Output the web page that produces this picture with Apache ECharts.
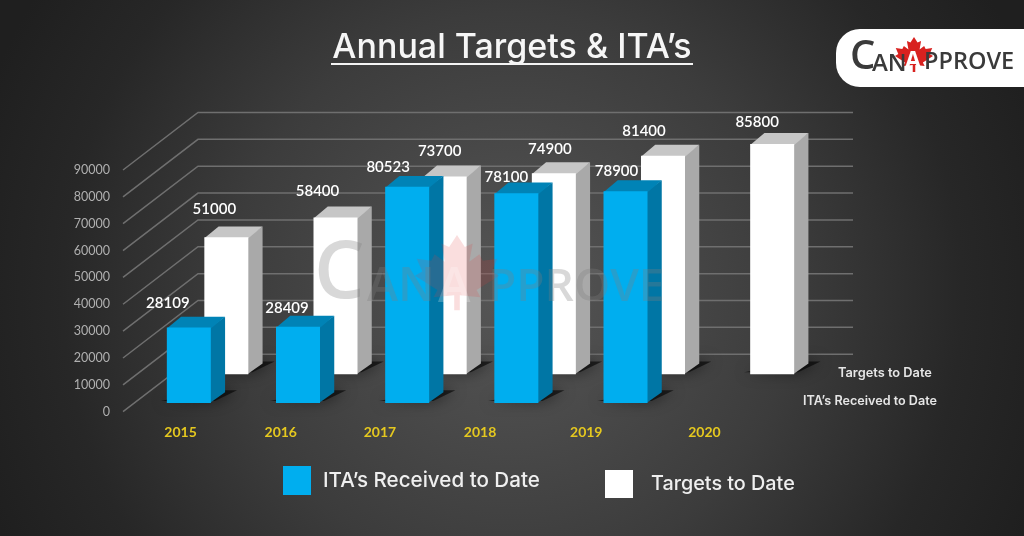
<!DOCTYPE html>
<html>
<head>
<meta charset="utf-8">
<style>html,body{margin:0;padding:0;background:#222}#chart{width:1024px;height:536px}</style>
<script src="https://cdn.jsdelivr.net/npm/echarts@6/dist/echarts.min.js"></script>
</head>
<body>
<div id="chart"></div>
<script>
var years = ['2015', '2016', '2017', '2018', '2019', '2020'];
var yTicks = [0, 10000, 20000, 30000, 40000, 50000, 60000, 70000, 80000, 90000];
var itaName = 'ITA\u2019s Received to Date';
var targetName = 'Targets to Date';
var itaValues = [28109, 28409, 80523, 78100, 78900, null];
var targetValues = [51000, 58400, 73700, 74900, 81400, 85800];

// hand placed offsets of the labels in the original picture, [dx from bar centre, dy above bar top]
var itaLabelNudge = [[-21, 24], [-11, 19], [-19, 20], [-10, 16], [-9, 20], [0, 0]];
var targetLabelNudge = [[-12, 28], [-18, 26], [-5, 25], [-4, 24], [-19, 25], [-15, 22]];
var yearLabelNudge = [3, -6, -16, -25, -28, -19];

// fake 3d box: a point at depth d sits d*(depthX, -depthY) from the front plane
var depthX = 75, depthY = 57.5, barW = 44, barDepth = 0.19;

function shift(p, d) {
    return [p[0] + d * depthX, p[1] - d * depthY];
}

function wallItem(params, api) {
    var c = params.coordSys;
    var y = api.coord([0, api.value(0)])[1];
    var a = [c.x, y], b = shift(a, 1);
    return {
        type: 'polyline',
        shape: {points: [a, b, [c.x + c.width + depthX, b[1]]]},
        style: {stroke: '#6f6f6f', lineWidth: 1.5, fill: 'none'},
        silent: true
    };
}

function barRenderer(depth, colors, nudge) {
    return function (params, api) {
        var v = api.value(1);
        if (isNaN(v) || v === null) return;
        var i = api.value(0);
        var base = shift(api.coord([i, 0]), depth);
        var top = shift(api.coord([i, v]), depth);
        var l = top[0] - barW / 2, r = top[0] + barW / 2;
        var dx = barDepth * depthX, dy = barDepth * depthY;
        return {
            type: 'group',
            children: [
                {type: 'polygon', shape: {points: [[l - 6, base[1] - 2], [r + 4, base[1] - 2], [r + dx + 12, base[1] - dy - 2], [r + 4, base[1] - dy - 2]]},
                    style: {fill: 'rgba(0,0,0,0.6)', shadowBlur: 14, shadowColor: 'rgba(0,0,0,0.95)'}},
                // side and top run 1px under the front face so no seam shows
                {type: 'polygon', shape: {points: [[r - 1, top[1]], [r + dx, top[1] - dy], [r + dx, base[1] - dy], [r - 1, base[1]]]}, style: {fill: colors[1]}},
                {type: 'polygon', shape: {points: [[l, top[1] + 1], [l + dx, top[1] - dy], [r + dx, top[1] - dy], [r, top[1] + 1]]}, style: {fill: colors[2]}},
                {type: 'rect', shape: {x: l, y: top[1], width: barW, height: base[1] - top[1]}, style: {fill: colors[0]}},
                {type: 'text', style: {text: String(v), x: top[0] + nudge[i][0], y: top[1] - nudge[i][1],
                    align: 'center', verticalAlign: 'middle', fill: '#fff', font: '600 15px Lato'}, z2: 10}
            ]
        };
    };
}

function leaf(cx, cy, sx, sy) {
    var pts = [[0, -1], [.14, -.72], [.28, -.8], [.22, -.38], [.4, -.55], [.46, -.4], [.72, -.45], [.62, -.15], [.75, -.05], [.35, .28], [.42, .45], [.05, .4], [.05, .75], [-.05, .75], [-.05, .4], [-.42, .45], [-.35, .28], [-.75, -.05], [-.62, -.15], [-.72, -.45], [-.46, -.4], [-.4, -.55], [-.22, -.38], [-.28, -.8], [-.14, -.72]];
    return pts.map(function (p) { return [cx + p[0] * sx / .75, cy + p[1] * sy]; });
}

function label(text, x, y, font, fill, z, align) {
    return {type: 'text', x: x, y: y, z: z || 20, silent: true,
        style: {text: text, font: font, fill: fill, align: align || 'left', verticalAlign: 'middle'}};
}

var richYears = {};
years.forEach(function (y, i) {
    var s = yearLabelNudge[i];
    richYears['y' + i] = {color: '#e5c81f', fontFamily: 'Lato', fontWeight: 'bold', fontSize: 14,
        padding: s < 0 ? [0, -2 * s, 0, 0] : [0, 0, 0, 2 * s]};
});

var markGrey = 'rgba(125,125,125,0.3)';
var graphics = [
    // title underline
    {type: 'rect', z: 20, shape: {x: 331, y: 63, width: 362, height: 2}, style: {fill: '#f4f4f4'}},
    // series names on the floor
    label(targetName, 838, 373, '600 12.8px Inter', '#e6e6e6'),
    label(itaName, 803, 401, '600 12.6px Inter', '#e6e6e6'),
    // watermark
    {type: 'polygon', z: 50, silent: true, shape: {points: leaf(457, 278, 42, 43)}, style: {fill: 'rgba(226,60,60,0.17)'}},
    label('C', 314, 275, '600 80px "Open Sans"', markGrey, 51),
    label('AN', 367, 288, '600 47px "Open Sans"', markGrey, 51),
    label('A', 438, 288, '600 49px "Open Sans"', 'rgba(255,255,255,0.22)', 51),
    label('PPROVE', 488, 288, '600 46px "Open Sans"', markGrey, 51),
    // logo
    {type: 'rect', z: 60, shape: {x: 836, y: 29, width: 220, height: 58, r: 24}, style: {fill: '#fff'}},
    {type: 'polygon', z: 61, silent: true, shape: {points: leaf(914, 57, 19, 20)}, style: {fill: '#d8211f'}},
    label('C', 850, 58, '600 40px "Open Sans"', '#3a3a3a', 62),
    label('AN', 872, 64, '600 24px "Open Sans"', '#3a3a3a', 62),
    label('A', 905, 61, 'bold 23px "Open Sans"', '#fff', 62),
    label('PPROVE', 924, 62, '600 23.5px "Open Sans"', '#3a3a3a', 62)
];

var chart = echarts.init(document.getElementById('chart'));
chart.setOption({
    animation: false,
    backgroundColor: {type: 'radial', x: 0.5, y: 0.55, r: 1.05, colorStops: [
        {offset: 0, color: '#565656'}, {offset: 0.5, color: '#3c3c3c'}, {offset: 0.8, color: '#272727'}, {offset: 1, color: '#1f1f1f'}]},
    title: {text: 'Annual Targets & ITA\u2019s', left: 'center', top: 26,
        textStyle: {color: '#f6f6f6', fontFamily: 'Inter', fontWeight: 500, fontSize: 34}},
    legend: [
        {data: [itaName], left: 283, top: 466, padding: 0, itemWidth: 28, itemHeight: 29, icon: 'rect',
            textStyle: {color: '#efefef', fontFamily: 'Inter', fontWeight: 500, fontSize: 20.6, padding: [2, 0, 0, 7]}},
        {data: [targetName], left: 605, top: 470, padding: 0, itemWidth: 28, itemHeight: 28, icon: 'rect',
            textStyle: {color: '#efefef', fontFamily: 'Inter', fontWeight: 500, fontSize: 19.8, padding: [2, 0, 0, 13]}}
    ],
    grid: {left: 123, top: 170, width: 655, height: 241.7},
    xAxis: {
        type: 'category', data: years, axisLine: {show: false}, axisTick: {show: false},
        axisLabel: {
            interval: 0, margin: 14, color: '#e5c81f', fontFamily: 'Lato', fontWeight: 'bold', fontSize: 14, rich: richYears,
            formatter: function (v, i) { return '{y' + i + '|' + v + '}'; }
        }
    },
    yAxis: {
        type: 'value', min: 0, max: 90000, interval: 10000, splitLine: {show: false},
        axisLine: {show: false}, axisTick: {show: false},
        axisLabel: {margin: 13, color: '#b0b0b0', fontFamily: 'Lato', fontSize: 12.5, padding: [0, 0, 3, 0],
            formatter: function (v) { return String(v); }}
    },
    series: [
        {name: 'wall', type: 'custom', z: 1, silent: true, renderItem: wallItem, encode: {y: 0},
            data: yTicks.map(function (t) { return [t]; })},
        {name: targetName, type: 'custom', z: 2, itemStyle: {color: '#fff'}, encode: {x: 0, y: 1},
            renderItem: barRenderer(0.65, ['#ffffff', '#a9a9a9', '#c6c6c6'], targetLabelNudge),
            data: targetValues.map(function (v, i) { return [i, v]; })},
        {name: itaName, type: 'custom', z: 3, itemStyle: {color: '#00aeef'}, encode: {x: 0, y: 1},
            renderItem: barRenderer(0.15, ['#00aeef', '#0076a5', '#0083b6'], itaLabelNudge),
            data: itaValues.map(function (v, i) { return [i, v]; })}
    ],
    graphic: {elements: graphics}
});
</script>
</body>
</html>
